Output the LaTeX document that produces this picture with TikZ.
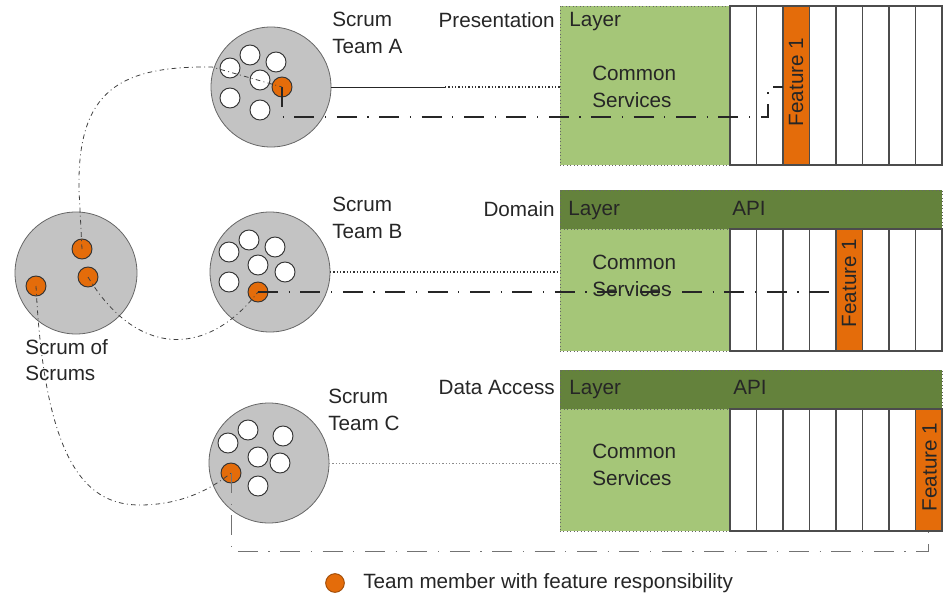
\documentclass[tikz,border=0pt]{standalone}
\usepackage{fontspec}
\setmainfont{Liberation Sans}
\usetikzlibrary{calc}

\definecolor{teamgray}{HTML}{C3C3C3}
\definecolor{layergreen}{HTML}{A5C678}
\definecolor{apigreen}{HTML}{64823C}
\definecolor{featorange}{HTML}{E46C0A}
\definecolor{inkgray}{HTML}{262626}

\begin{document}
\begin{tikzpicture}[x=0.75pt,y=-0.75pt,
  font=\fontsize{15.5}{20}\selectfont,
  team/.style={circle, draw=black!60, line width=0.6pt, fill=teamgray,
    minimum size=90pt, inner sep=0, outer sep=0},
  member/.style={circle, draw=black!80, line width=0.7pt, fill=white,
    minimum size=15pt, inner sep=0, outer sep=0},
  lead/.style={member, fill=featorange},
  lbl/.style={text=inkgray, align=left, inner sep=0, anchor=north west},
  rlbl/.style={text=inkgray, align=right, inner sep=0, anchor=north east},
  greenbox/.style={draw=black!60, dotted, line width=0.6pt, fill=layergreen,
    anchor=north west, inner sep=0, outer sep=0},
  apibar/.style={draw=black!60, dotted, line width=0.6pt, fill=apigreen,
    anchor=north west, inner sep=0, outer sep=0,
    minimum width=286.5pt, minimum height=29.25pt},
  col/.style={draw=black!70, line width=0.9pt, fill=white, anchor=north west,
    minimum width=19.875pt, minimum height=#1, inner sep=0, outer sep=0},
  featlbl/.style={rotate=90, text=inkgray, inner sep=0},
  plainline/.style={draw=black!85, line width=0.7pt},
  dotline/.style={draw=black!80, line width=0.9pt, dash pattern=on 0.9pt off 1.6pt},
  featpath/.style={draw=black!85, line width=0.8pt,
    dash pattern=on 15pt off 8pt on 0.8pt off 8pt},
  sospath/.style={draw=black!75, line width=0.6pt,
    dash pattern=on 3.5pt off 2.5pt on 0.7pt off 2.5pt},
  faint/.style={draw=black!45}
]
\useasboundingbox (0,0) rectangle (943,596);

% ---------- scrum of scrums ----------
\node[team, minimum size=91.5pt] (SoS) at (76,273) {};
\node[lead] (S1) at (82,249) {};
\node[lead] (S2) at (88,277) {};
\node[lead] (S3) at (36,286) {};
\node[lbl] (SoSlbl) at (25,339) {Scrum of\\Scrums};

% ---------- team A ----------
\node[team] (TA) at (271,87) {};
\foreach \p [count=\k] in {(250,55),(276,62),(230,68),(260,80),(230,98),(260,110)}
  \node[member] (A\k) at \p {};
\node[lead] (Ao) at (282,87) {};
\node[lbl] (TAlbl) at (332,12) {Scrum\\Team A};

% ---------- team B ----------
\node[team] (TB) at (270,272) {};
\foreach \p [count=\k] in {(249,240),(229,252),(275,247),(258,265),(285,272),(229,282)}
  \node[member] (B\k) at \p {};
\node[lead] (Bo) at (258,292) {};
\node[lbl] (TBlbl) at (332,197) {Scrum\\Team B};

% ---------- team C ----------
\node[team] (TC) at (269,463) {};
\foreach \p [count=\k] in {(248,430),(228,443),(283,436),(258,457),(280,463),(258,486)}
  \node[member] (C\k) at \p {};
\node[lead] (Co) at (231,473) {};
\node[lbl] (TClbl) at (328,389) {Scrum\\Team C};

% ---------- presentation layer ----------
\node[greenbox, minimum width=127.5pt, minimum height=119.25pt] (PG) at (560,6) {};
\foreach \i/\c in {1/white,2/white,3/featorange,4/white,5/white,6/white,7/white,8/white}
  \node[col=119.25pt, fill=\c] (P\i) at ({730+(\i-1)*26.5},6) {};
\node[featlbl] (PF) at (796,82) {Feature 1};
\node[rlbl] (Pname) at (555,12) {Presentation};
\node[lbl] (Player) at (569,12) {Layer};
\node[lbl] (Pcs) at (592,66) {Common\\Services};

% ---------- domain layer ----------
\node[apibar] (DB) at (560,190) {};
\node[greenbox, minimum width=127.5pt, minimum height=91.5pt] (DG) at (560,229) {};
\foreach \i/\c in {1/white,2/white,3/white,4/white,5/featorange,6/white,7/white,8/white}
  \node[col=91.5pt, fill=\c] (D\i) at ({730+(\i-1)*26.5},229) {};
\node[featlbl] (DF) at (849,283) {Feature 1};
\node[rlbl] (Dname) at (555,201) {Domain};
\node[lbl] (Dlayer) at (568,201) {Layer};
\node[lbl] (Dapi) at (732,201) {API};
\node[lbl] (Dcs) at (592,255) {Common\\Services};

% ---------- data access layer ----------
\node[apibar] (AB) at (560,370) {};
\node[greenbox, minimum width=127.5pt, minimum height=91.5pt] (AG) at (560,409) {};
\foreach \i/\c in {1/white,2/white,3/white,4/white,5/white,6/white,7/white,8/featorange}
  \node[col=91.5pt, fill=\c] (X\i) at ({730+(\i-1)*26.5},409) {};
\node[featlbl] (XF) at (929.5,467) {Feature 1};
\node[rlbl] (Xname) at (555,380) {Data Access};
\node[lbl] (Xlayer) at (569,380) {Layer};
\node[lbl] (Xapi) at (733,380) {API};
\node[lbl] (Xcs) at (592,444) {Common\\Services};

% ---------- legend ----------
\node[lead, draw=featorange!70!black, minimum size=14pt] (Key) at (335,583) {};
\node[lbl, anchor=west] (Keylbl) at (363,583) {Team member with feature responsibility};

% ---------- team to layer links ----------
\coordinate (aSplit) at (445,87);
\draw[plainline] (TA.east) -- (aSplit);
\draw[dotline] (aSplit) -- (aSplit -| PG.west);
\draw[dotline] (TB.east) -- (TB.east -| DG.west);
\draw[dotline, faint, line width=0.7pt] (TC.east) -- (TC.east -| AG.west);

% ---------- feature owner paths ----------
\coordinate (aDrop) at (282,117);
\coordinate (aKnee) at (768,117);
\coordinate (aHook) at (768,87);
\draw[featpath] (Ao.center) -- (aDrop) -- (aKnee) -- (aHook) -- (aHook -| P3.west);
\draw[featpath] (Bo.center) -- (Bo.center -| D5.west);
\coordinate (cDrop) at (231,551);
\draw[featpath, draw=black!55, line width=0.6pt]
  (Co.center) -- (cDrop) -- (cDrop -| X8.south) -- (X8.south);

% ---------- scrum of scrums links ----------
\coordinate (s1Up) at (79,190);
\coordinate (s1In) at (212,67);
\draw[sospath] (S1.center) -- (s1Up) .. controls (77,90) and (120,66) .. (s1In) -- (Ao.center);
\draw[sospath] (S2.center) .. controls (135,355) and (205,360) .. (Bo.center);
\coordinate (s3Low) at (140,505);
\draw[sospath] (S3.center) .. controls (45,470) and (90,505) .. (s3Low)
  .. controls (180,505) and (210,490) .. (Co.center);
\end{tikzpicture}
\end{document}
